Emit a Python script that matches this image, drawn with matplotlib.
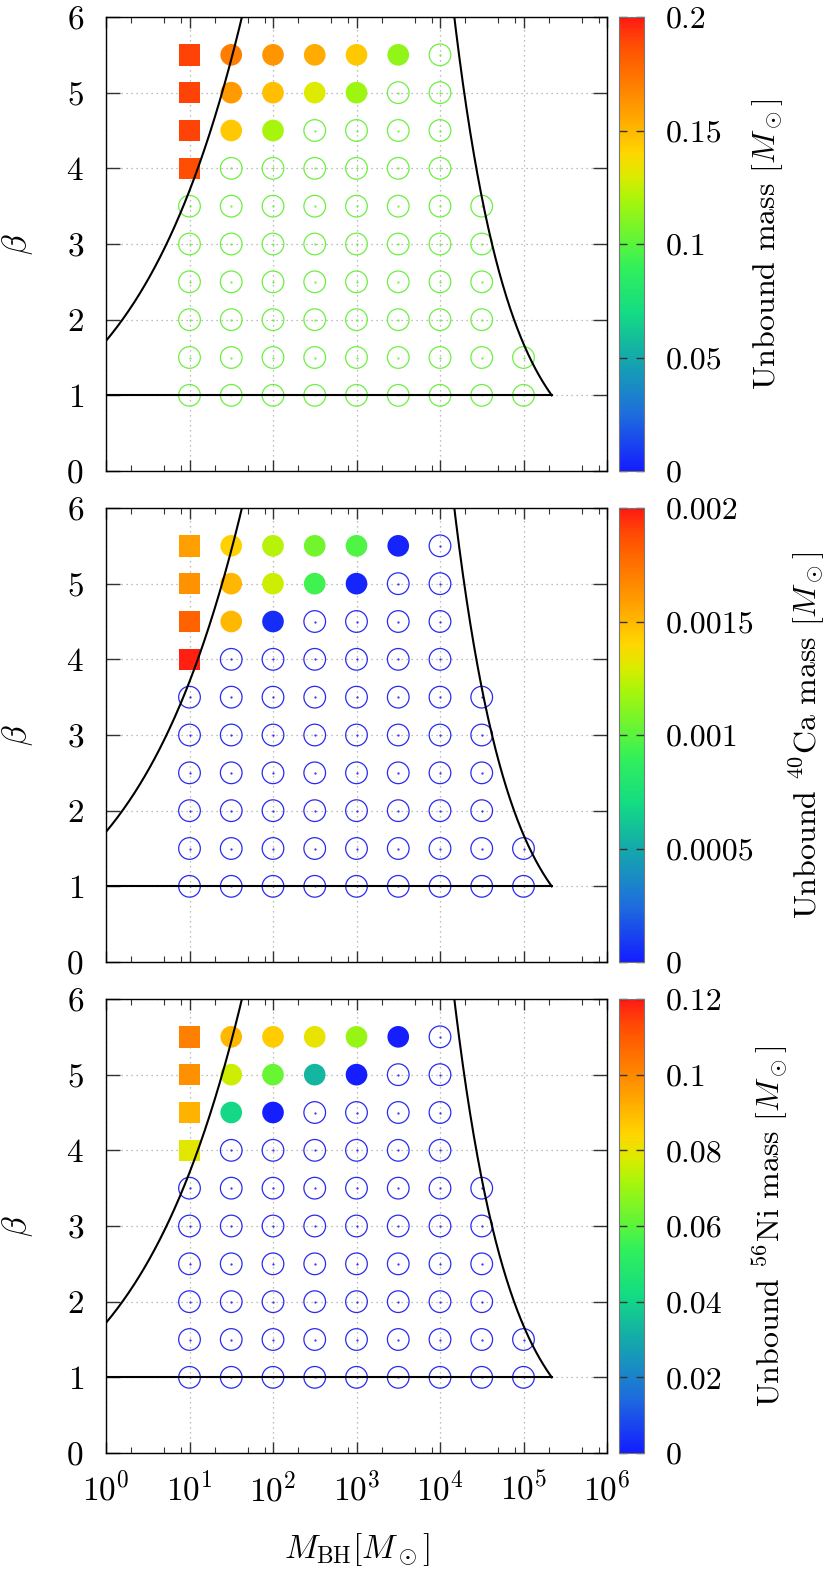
import numpy as np
import matplotlib
matplotlib.use("Agg")
import matplotlib.pyplot as plt
from matplotlib.colors import LinearSegmentedColormap, Normalize
from matplotlib.cm import ScalarMappable
from matplotlib.ticker import FixedLocator, NullFormatter, LogFormatterMathtext

plt.rcParams['font.family'] = 'cmr10'
plt.rcParams['mathtext.fontset'] = 'cm'
plt.rcParams['axes.formatter.use_mathtext'] = True
plt.rcParams['font.size'] = 23

# black hole masses of the simulation grid columns
mbh_cols = [10, 31.6, 100, 316, 1000, 3162, 1e4, 3.16e4, 1e5]

# squares (column M_BH = 10)
sq_beta = [5.5, 5.0, 4.5, 4.0]
unb_sq = [0.19, 0.19, 0.19, 0.187]
ca_sq = [0.00158, 0.00163, 0.0018, 0.00198]
ni_sq = [0.102, 0.098, 0.091, 0.079]

# filled circles
fill_x = [31.6, 100, 316, 1000, 3162, 31.6, 100, 316, 1000, 31.6, 100]
fill_beta = [5.5, 5.5, 5.5, 5.5, 5.5, 5.0, 5.0, 5.0, 5.0, 4.5, 4.5]
unb_fill = [0.171, 0.162, 0.154, 0.145, 0.114, 0.16, 0.148, 0.13, 0.117, 0.145, 0.119]
ca_fill = [0.00142, 0.00122, 0.00106, 0.00097, 0.00002, 0.0015, 0.00127, 0.00093, 0.00003,
           0.0015, 0.00005]
ni_fill = [0.09, 0.086, 0.08, 0.069, 0.0, 0.076, 0.062, 0.033, 0.0, 0.041, 0.0]

# open circles: beta row -> (first, last) column index
open_beta = [5.5, 5.0, 4.5, 4.0, 3.5, 3.0, 2.5, 2.0, 1.5, 1.0]
open_first = [6, 5, 3, 1, 0, 0, 0, 0, 0, 0]
open_last = [6, 6, 6, 6, 7, 7, 7, 7, 8, 8]

# boundary curves
beta_left0 = 1.72      # beta at M_BH = 1 on left curve
m_right1 = 2.18e5      # M_BH where right curve reaches beta = 1

x_major = [1, 10, 100, 1e3, 1e4, 1e5, 1e6]
x_minor = [2, 5, 8, 20, 50, 80, 200, 500, 800, 2e3, 5e3, 8e3, 2e4, 5e4, 8e4, 2e5, 5e5, 8e5]

cb_ticks = [[0, 0.05, 0.1, 0.15, 0.2],
            [0, 0.0005, 0.001, 0.0015, 0.002],
            [0, 0.02, 0.04, 0.06, 0.08, 0.1, 0.12]]
cb_labels = [["0", "0.05", "0.1", "0.15", "0.2"],
             ["0", "0.0005", "0.001", "0.0015", "0.002"],
             ["0", "0.02", "0.04", "0.06", "0.08", "0.1", "0.12"]]
cb_titles = [r"Unbound mass $[M_\odot]$",
             r"Unbound $^{40}$Ca mass $[M_\odot]$",
             r"Unbound $^{56}$Ni mass $[M_\odot]$"]
open_colors = ['#6cf040', '#2a2af0', '#2a2af0']

cmap = LinearSegmentedColormap.from_list('gp', [
    (0.0, (20/255, 30/255, 1.0)),
    (0.125, (30/255, 110/255, 220/255)),
    (0.25, (20/255, 170/255, 170/255)),
    (0.35, (20/255, 220/255, 130/255)),
    (0.45, (50/255, 240/255, 90/255)),
    (0.5, (90/255, 245/255, 60/255)),
    (0.6, (170/255, 245/255, 10/255)),
    (0.65, (220/255, 235/255, 0.0)),
    (0.7, (1.0, 215/255, 0.0)),
    (0.75, (1.0, 185/255, 0.0)),
    (0.8, (1.0, 155/255, 0.0)),
    (0.9, (1.0, 100/255, 0.0)),
    (0.95, (1.0, 70/255, 5/255)),
    (1.0, (1.0, 25/255, 20/255)),
])

W, H = 830, 1571
fig = plt.figure(figsize=(W/100, H/100), dpi=100)

tops = [17, 508, 999]
ah = 454
sq_vals = [unb_sq, ca_sq, ni_sq]
fill_vals = [unb_fill, ca_fill, ni_fill]
label_x = [750, 788, 750]

ox, oy = [], []
for b, i0, i1 in zip(open_beta, open_first, open_last):
    for m in mbh_cols[i0:i1+1]:
        ox.append(m)
        oy.append(b)

for k in range(3):
    ax = fig.add_axes([106/W, 1-(tops[k]+ah)/H, 501/W, ah/H])
    cax = fig.add_axes([619/W, 1-(tops[k]+ah)/H, 25/W, ah/H])
    norm = Normalize(cb_ticks[k][0], cb_ticks[k][-1])

    ax.set_xscale('log')
    ax.set_xlim(1, 1e6)
    ax.set_ylim(0, 6)
    ax.set_axisbelow(True)
    ax.grid(which='major', color='#a8a8a8', linestyle=(0, (1, 3)), linewidth=0.9)

    ax.scatter(ox, oy, s=243, marker='o', facecolors='none',
               edgecolors=open_colors[k], linewidths=0.9, zorder=2)
    ax.plot(ox, oy, '.', ms=1.2, color=open_colors[k], zorder=2)
    ax.scatter([10]*len(sq_beta), sq_beta, c=sq_vals[k], cmap=cmap, norm=norm,
               s=243, marker='s', edgecolors='none', zorder=3)
    ax.scatter(fill_x, fill_beta, c=fill_vals[k], cmap=cmap, norm=norm,
               s=243, marker='o', edgecolors='none', zorder=3)

    ml = np.logspace(0, 1.7, 200)
    ax.plot(ml, beta_left0*ml**(1/3), color='k', lw=1.5, zorder=4)
    mr = np.logspace(4.1, np.log10(m_right1), 200)
    ax.plot(mr, (mr/m_right1)**(-2/3), color='k', lw=1.5, zorder=4)
    ax.plot([1, m_right1], [1, 1], color='k', lw=1.5, zorder=4)

    ax.xaxis.set_major_locator(FixedLocator(x_major))
    ax.xaxis.set_minor_locator(FixedLocator(x_minor))
    ax.xaxis.set_minor_formatter(NullFormatter())
    ax.xaxis.set_major_formatter(LogFormatterMathtext())
    ax.set_yticks([0, 1, 2, 3, 4, 5, 6])
    ax.tick_params(which='both', direction='in', top=True, right=True, color='#333333')
    ax.tick_params(axis='x', which='major', length=7.7, width=1, pad=13, labelsize=24)
    ax.tick_params(axis='x', which='minor', length=4, width=0.8)
    ax.tick_params(axis='y', which='major', length=10, width=1, pad=16, labelsize=24)
    for s in ax.spines.values():
        s.set_linewidth(1)
    if k < 2:
        ax.tick_params(axis='x', labelbottom=False)
    else:
        ax.set_xlabel(r"$M_{\rm BH}[M_\odot]$", fontsize=24)
        ax.xaxis.set_label_coords(0.5, -(1531-1453)/ah)
    ax.set_ylabel(r"$\beta$", fontsize=24)
    ax.yaxis.set_label_coords((35-106)/501, 0.5)

    sm = ScalarMappable(norm=norm, cmap=cmap)
    cb = fig.colorbar(sm, cax=cax)
    cb.set_ticks(cb_ticks[k])
    cb.set_ticklabels(cb_labels[k])
    cb.minorticks_off()
    cb.outline.set_edgecolor('#777777')
    cax.tick_params(axis='y', which='major', direction='in', left=True, right=True,
                    length=6, width=1, color='#333333', pad=16, labelsize=23)
    cb.set_label(cb_titles[k], fontsize=23)
    cax.yaxis.set_label_coords((label_x[k]-619)/25, 0.5)

fig.savefig('out.png', dpi=100)
